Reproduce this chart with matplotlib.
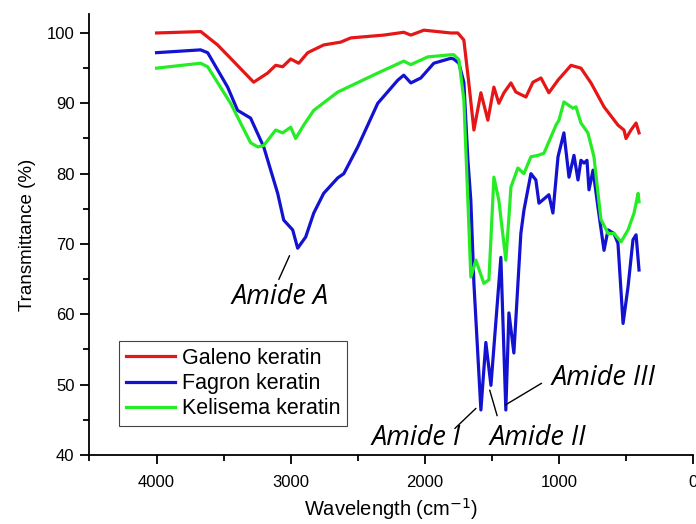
import matplotlib
matplotlib.use('Agg')
import matplotlib.pyplot as plt
from matplotlib.ticker import MultipleLocator

plt.rcParams['font.family'] = ['Liberation Sans', 'DejaVu Sans']

# FTIR spectra (wavenumber cm-1, transmittance %)
galeno_wn = [4000, 3670, 3545, 3448, 3276, 3172, 3112, 3060, 3000, 2940, 2873, 2754, 2627,
             2552, 2306, 2157, 2104, 2007, 1806, 1754, 1709, 1672, 1634, 1582, 1530, 1485,
             1448, 1410, 1358, 1321, 1246, 1194, 1134, 1075, 1007, 910, 836, 761, 664, 560,
             515, 500, 463, 425, 403]
galeno_t = [100, 100.2, 98.3, 96.4, 93.0, 94.3, 95.4, 95.2, 96.3, 95.7, 97.2, 98.3, 98.7,
            99.3, 99.7, 100.1, 99.7, 100.4, 100, 100, 99, 92.9, 86.2, 91.5, 87.6, 92.3,
            90, 91.5, 92.9, 91.6, 90.9, 93, 93.6, 91.5, 93.3, 95.4, 95, 92.9, 89.5, 86.9,
            86.2, 85, 86.2, 87.2, 85.8]

fagron_wn = [4000, 3672, 3619, 3470, 3396, 3299, 3201, 3097, 3052, 2985, 2948, 2888, 2828,
             2754, 2649, 2604, 2500, 2351, 2201, 2157, 2104, 2030, 1933, 1806, 1784, 1746,
             1709, 1679, 1657, 1634, 1582, 1545, 1507, 1433, 1396, 1373, 1336, 1284, 1261,
             1209, 1172, 1149, 1075, 1045, 1007, 963, 925, 888, 858, 836, 813, 791, 776,
             746, 709, 664, 634, 590, 560, 522, 485, 448, 425, 403]
fagron_t = [97.2, 97.6, 97.2, 92.3, 89, 87.9, 83.8, 77.2, 73.4, 72, 69.4, 71, 74.4,
            77.2, 79.4, 80, 83.8, 90, 93.3, 94, 92.9, 93.6, 95.7, 96.4, 96.3, 95.7,
            93, 82, 76.2, 64.4, 46.4, 56, 49.9, 68.1, 46.4, 60.2, 54.5, 71.5, 74.8,
            80, 79.1, 75.8, 77, 74.4, 82.4, 85.8, 79.5, 82.6, 79.1, 81.9, 81.5, 81.9, 77.7,
            80.5, 75.2, 69.1, 72, 71.5, 70.1, 58.7, 63.9, 70.6, 71.3, 66.3]

kelisema_wn = [4000, 3672, 3619, 3448, 3299, 3246, 3201, 3112, 3060, 3000, 2963, 2903, 2828,
               2649, 2351, 2157, 2104, 1978, 1806, 1784, 1746, 1709, 1679, 1657, 1619, 1560,
               1522, 1485, 1448, 1396, 1373, 1358, 1306, 1261, 1209, 1157, 1112, 1060, 1022,
               1000, 963, 896, 873, 836, 784, 739, 687, 634, 590, 537, 485, 440, 410, 403]
kelisema_t = [95, 95.7, 95.2, 90, 84.4, 83.8, 84, 86.2, 85.8, 86.6, 85, 86.9, 89,
              91.6, 94.3, 96.0, 95.5, 96.6, 96.9, 96.9, 96.2, 90.5, 76.2, 65.3, 67.7, 64.4,
              64.9, 79.5, 76.2, 67.7, 73.8, 78.1, 80.8, 80, 82.4, 82.6, 82.9, 85.2, 86.9,
              87.6, 90.2, 89.3, 89.5, 87.2, 85.8, 82.4, 73.5, 71.5, 71.5, 70.3, 72, 74.4, 77.2, 76]

fig = plt.figure(figsize=(6.96, 5.24), dpi=100)
ax = fig.add_axes([0.128, 0.1317, 0.8678, 0.8416])

ax.plot(galeno_wn, galeno_t, color='#e51616', lw=2.3, label='Galeno keratin')
ax.plot(fagron_wn, fagron_t, color='#1212d0', lw=2.3, label='Fagron keratin')
ax.plot(kelisema_wn, kelisema_t, color='#26ec26', lw=2.3, label='Kelisema keratin')

ax.set_xlim(4503, 0)
ax.set_ylim(40, 102.7)
ax.xaxis.set_major_locator(MultipleLocator(1000))
ax.xaxis.set_minor_locator(MultipleLocator(500))
ax.yaxis.set_major_locator(MultipleLocator(10))
ax.yaxis.set_minor_locator(MultipleLocator(5))
for s in ['top', 'right']:
    ax.spines[s].set_visible(False)
for s in ['left', 'bottom']:
    ax.spines[s].set_linewidth(1.3)
ax.tick_params(which='major', length=6.5, width=1.3, labelsize=12)
ax.tick_params(axis='x', which='major', pad=8)
ax.tick_params(axis='y', which='major', pad=4)
ax.tick_params(which='minor', length=4, width=1.3)

ax.set_ylabel('Transmittance (%)', fontsize=13.5, labelpad=8)
ax.set_xlabel('Wavelength (cm$^{-1}$)', fontsize=14.5, labelpad=4)

leg = ax.legend(loc='lower left', bbox_to_anchor=(0.05, 0.066), fontsize=15.5,
                frameon=True, fancybox=False, edgecolor='#444444', framealpha=1,
                handlelength=2.3, borderpad=0.3, labelspacing=0.2, handletextpad=0.3,
                borderaxespad=0)
leg.get_frame().set_linewidth(0.8)

# annotations
afont = dict(family=['Open Sans', 'DejaVu Sans'], style='italic', fontsize=19.5)
ax.annotate('', xy=(3000, 68.7), xytext=(3097, 64.6),
            arrowprops=dict(arrowstyle='-', lw=1, color='black'))
ax.text(3082, 62.4, 'Amide A', ha='center', va='center', **afont)

ax.annotate('', xy=(1604, 46.9), xytext=(1791, 43.5),
            arrowprops=dict(arrowstyle='-', lw=1, color='black'))
ax.text(2067, 42.4, 'Amide I', ha='center', va='center', **afont)

ax.annotate('', xy=(1522, 49.6), xytext=(1455, 45.2),
            arrowprops=dict(arrowstyle='-', lw=1, color='black'))
ax.text(1157, 42.4, 'Amide II', ha='center', va='center', **afont)

ax.annotate('', xy=(1418, 46.9), xytext=(1112, 50.4),
            arrowprops=dict(arrowstyle='-', lw=1, color='black'))
ax.text(664, 50.9, 'Amide III', ha='center', va='center', **afont)

fig.savefig('out.png', dpi=100)
